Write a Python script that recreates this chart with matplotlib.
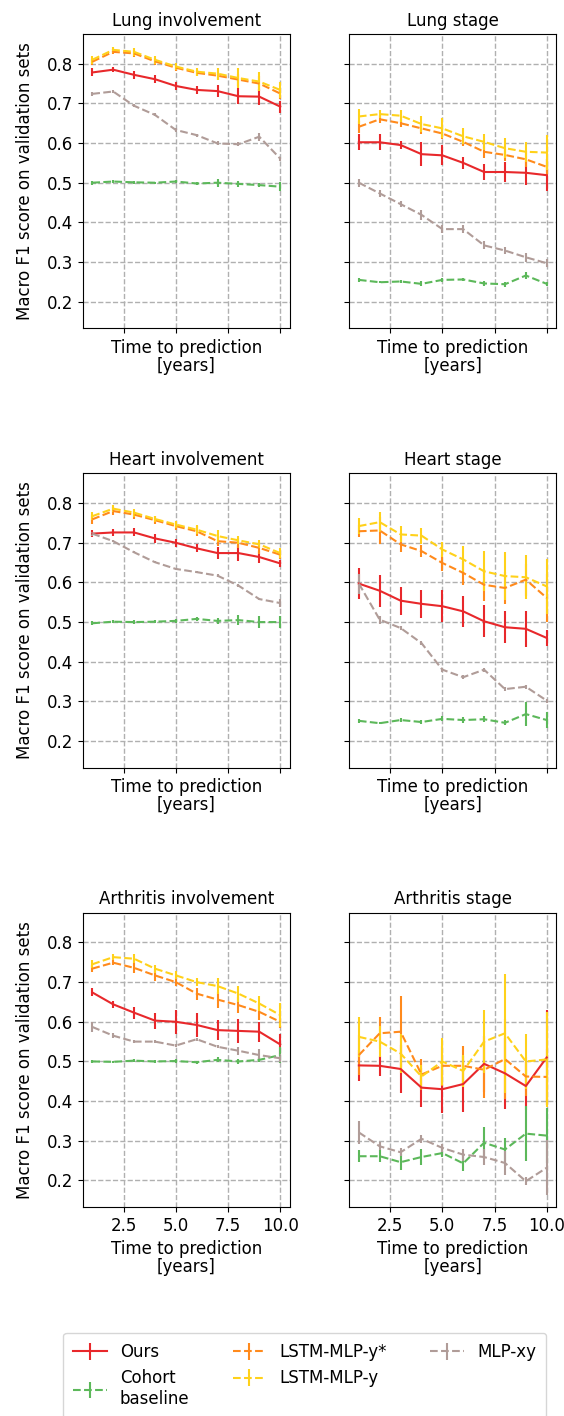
import numpy as np
import matplotlib
matplotlib.use("Agg")
import matplotlib.pyplot as plt

plt.rcParams["font.size"] = 12

years = np.arange(1, 11)

panel_titles = ["Lung involvement", "Lung stage",
                "Heart involvement", "Heart stage",
                "Arthritis involvement", "Arthritis stage"]

model_names = ["Ours", "Cohort\nbaseline", "LSTM-MLP-y*", "LSTM-MLP-y", "MLP-xy"]
model_colors = ["#e8282b", "#5cb85a", "#ff8a1c", "#ffd11a", "#b09c98"]
model_styles = ["-", "--", "--", "--", "--"]

# mean macro F1 per panel, one list per model (same order as model_names)
lung_inv = [
    [0.778, 0.785, 0.772, 0.761, 0.744, 0.734, 0.731, 0.718, 0.717, 0.692],
    [0.500, 0.503, 0.501, 0.500, 0.503, 0.498, 0.500, 0.497, 0.494, 0.490],
    [0.805, 0.830, 0.826, 0.806, 0.790, 0.777, 0.770, 0.760, 0.750, 0.725],
    [0.810, 0.835, 0.830, 0.810, 0.793, 0.780, 0.775, 0.764, 0.755, 0.734],
    [0.724, 0.730, 0.694, 0.671, 0.633, 0.620, 0.599, 0.597, 0.616, 0.561],
]
lung_inv_err = [
    [0.010, 0.006, 0.010, 0.010, 0.010, 0.010, 0.015, 0.020, 0.020, 0.015],
    [0.005, 0.003, 0.004, 0.003, 0.004, 0.003, 0.010, 0.008, 0.006, 0.012],
    [0.008, 0.006, 0.008, 0.008, 0.008, 0.008, 0.010, 0.015, 0.020, 0.015],
    [0.010, 0.008, 0.010, 0.010, 0.010, 0.010, 0.015, 0.025, 0.025, 0.020],
    [0.005, 0.004, 0.004, 0.004, 0.004, 0.004, 0.005, 0.005, 0.010, 0.005],
]

lung_stage = [
    [0.602, 0.602, 0.595, 0.572, 0.569, 0.550, 0.527, 0.527, 0.525, 0.519],
    [0.255, 0.249, 0.251, 0.245, 0.255, 0.256, 0.246, 0.244, 0.266, 0.245],
    [0.641, 0.660, 0.650, 0.637, 0.624, 0.603, 0.578, 0.570, 0.559, 0.540],
    [0.667, 0.673, 0.669, 0.648, 0.637, 0.617, 0.603, 0.587, 0.578, 0.576],
    [0.500, 0.473, 0.446, 0.419, 0.383, 0.383, 0.342, 0.329, 0.312, 0.297],
]
lung_stage_err = [
    [0.020, 0.020, 0.010, 0.030, 0.025, 0.015, 0.020, 0.025, 0.030, 0.040],
    [0.005, 0.003, 0.003, 0.006, 0.005, 0.003, 0.006, 0.006, 0.010, 0.005],
    [0.015, 0.010, 0.010, 0.015, 0.015, 0.010, 0.015, 0.015, 0.020, 0.020],
    [0.020, 0.010, 0.015, 0.020, 0.025, 0.020, 0.020, 0.025, 0.025, 0.045],
    [0.010, 0.008, 0.008, 0.012, 0.010, 0.010, 0.010, 0.010, 0.012, 0.010],
]

heart_inv = [
    [0.723, 0.726, 0.726, 0.711, 0.700, 0.686, 0.674, 0.674, 0.664, 0.648],
    [0.497, 0.501, 0.500, 0.501, 0.503, 0.508, 0.503, 0.505, 0.500, 0.500],
    [0.759, 0.780, 0.771, 0.757, 0.742, 0.729, 0.704, 0.700, 0.687, 0.670],
    [0.767, 0.786, 0.776, 0.760, 0.746, 0.733, 0.717, 0.706, 0.696, 0.674],
    [0.723, 0.704, 0.676, 0.651, 0.634, 0.626, 0.617, 0.592, 0.558, 0.548],
]
heart_inv_err = [
    [0.008, 0.008, 0.010, 0.012, 0.010, 0.010, 0.015, 0.020, 0.015, 0.008],
    [0.005, 0.004, 0.005, 0.004, 0.006, 0.006, 0.008, 0.012, 0.015, 0.015],
    [0.012, 0.010, 0.010, 0.010, 0.010, 0.012, 0.012, 0.012, 0.015, 0.010],
    [0.010, 0.008, 0.010, 0.008, 0.010, 0.012, 0.015, 0.010, 0.010, 0.012],
    [0.005, 0.003, 0.003, 0.003, 0.003, 0.003, 0.003, 0.003, 0.003, 0.010],
]

heart_stage = [
    [0.597, 0.579, 0.554, 0.546, 0.540, 0.527, 0.502, 0.487, 0.483, 0.460],
    [0.251, 0.245, 0.253, 0.248, 0.256, 0.253, 0.255, 0.246, 0.268, 0.253],
    [0.729, 0.731, 0.696, 0.679, 0.649, 0.624, 0.594, 0.586, 0.607, 0.561],
    [0.742, 0.752, 0.721, 0.718, 0.683, 0.658, 0.628, 0.616, 0.613, 0.590],
    [0.597, 0.506, 0.485, 0.447, 0.380, 0.361, 0.380, 0.331, 0.337, 0.302],
]
heart_stage_err = [
    [0.040, 0.040, 0.035, 0.035, 0.040, 0.040, 0.040, 0.040, 0.045, 0.020],
    [0.005, 0.003, 0.006, 0.006, 0.006, 0.008, 0.008, 0.006, 0.030, 0.020],
    [0.015, 0.035, 0.020, 0.015, 0.020, 0.030, 0.040, 0.040, 0.040, 0.060],
    [0.020, 0.025, 0.020, 0.020, 0.020, 0.035, 0.050, 0.060, 0.055, 0.070],
    [0.025, 0.010, 0.005, 0.005, 0.005, 0.005, 0.005, 0.005, 0.005, 0.005],
]

arth_inv = [
    [0.674, 0.644, 0.623, 0.603, 0.600, 0.592, 0.579, 0.577, 0.575, 0.543],
    [0.500, 0.499, 0.502, 0.500, 0.501, 0.498, 0.504, 0.500, 0.504, 0.516],
    [0.734, 0.749, 0.736, 0.717, 0.700, 0.671, 0.656, 0.642, 0.625, 0.600],
    [0.745, 0.763, 0.759, 0.734, 0.717, 0.700, 0.690, 0.671, 0.646, 0.617],
    [0.587, 0.565, 0.550, 0.550, 0.540, 0.556, 0.537, 0.527, 0.516, 0.508],
]
arth_inv_err = [
    [0.010, 0.008, 0.015, 0.020, 0.030, 0.030, 0.025, 0.030, 0.025, 0.025],
    [0.003, 0.003, 0.004, 0.003, 0.004, 0.004, 0.006, 0.006, 0.006, 0.020],
    [0.008, 0.006, 0.012, 0.015, 0.010, 0.015, 0.020, 0.020, 0.020, 0.015],
    [0.010, 0.008, 0.012, 0.010, 0.010, 0.010, 0.020, 0.020, 0.020, 0.030],
    [0.012, 0.006, 0.004, 0.004, 0.004, 0.004, 0.004, 0.010, 0.015, 0.010],
]

arth_stage = [
    [0.490, 0.489, 0.481, 0.434, 0.430, 0.443, 0.494, 0.470, 0.438, 0.510],
    [0.261, 0.261, 0.246, 0.259, 0.269, 0.243, 0.295, 0.278, 0.318, 0.313],
    [0.516, 0.571, 0.575, 0.467, 0.489, 0.489, 0.479, 0.506, 0.462, 0.461],
    [0.562, 0.550, 0.520, 0.462, 0.500, 0.476, 0.550, 0.571, 0.500, 0.505],
    [0.321, 0.286, 0.271, 0.305, 0.282, 0.265, 0.259, 0.244, 0.198, 0.232],
]
arth_stage_err = [
    [0.040, 0.025, 0.060, 0.050, 0.060, 0.070, 0.070, 0.090, 0.060, 0.120],
    [0.015, 0.015, 0.020, 0.020, 0.010, 0.020, 0.040, 0.030, 0.070, 0.070],
    [0.050, 0.040, 0.090, 0.040, 0.050, 0.050, 0.070, 0.100, 0.050, 0.070],
    [0.050, 0.040, 0.050, 0.030, 0.060, 0.040, 0.080, 0.150, 0.070, 0.120],
    [0.030, 0.010, 0.010, 0.010, 0.010, 0.015, 0.020, 0.030, 0.010, 0.070],
]

panel_means = [lung_inv, lung_stage, heart_inv, heart_stage, arth_inv, arth_stage]
panel_errs = [lung_inv_err, lung_stage_err, heart_inv_err, heart_stage_err,
              arth_inv_err, arth_stage_err]

fig, axes = plt.subplots(3, 2, figsize=(5.64, 14.16), sharex=True, sharey=True)
fig.subplots_adjust(left=0.147, right=0.986, top=0.976, bottom=0.1476,
                    wspace=0.29, hspace=0.493)

for ax, title, means, errs in zip(axes.flat, panel_titles, panel_means, panel_errs):
    for name, color, ls, m, e in zip(model_names, model_colors, model_styles, means, errs):
        ax.errorbar(years, m, yerr=e, color=color, ls=ls, lw=1.5,
                    elinewidth=1.5, capsize=0, label=name)
    ax.set_title(title, fontsize=12)
    ax.set_xlabel("Time to prediction\n[years]", linespacing=1.0)
    ax.grid(True, ls="--", color="#b0b0b0", lw=1)
    ax.set_axisbelow(True)

for ax in axes[:, 0]:
    ax.set_ylabel("Macro F1 score on validation sets", labelpad=9)

axes[0, 0].set_ylim(0.133, 0.875)
axes[0, 0].set_xticks([2.5, 5.0, 7.5, 10.0])

handles, labels = axes[0, 0].get_legend_handles_labels()
fig.legend(handles, labels, loc="upper left", ncol=3, mode="expand",
           bbox_to_anchor=(0.112, -0.02, 0.856, 0.0786), fontsize=12,
           borderaxespad=0.0, borderpad=0.6)

fig.savefig("out.png", dpi=100)
